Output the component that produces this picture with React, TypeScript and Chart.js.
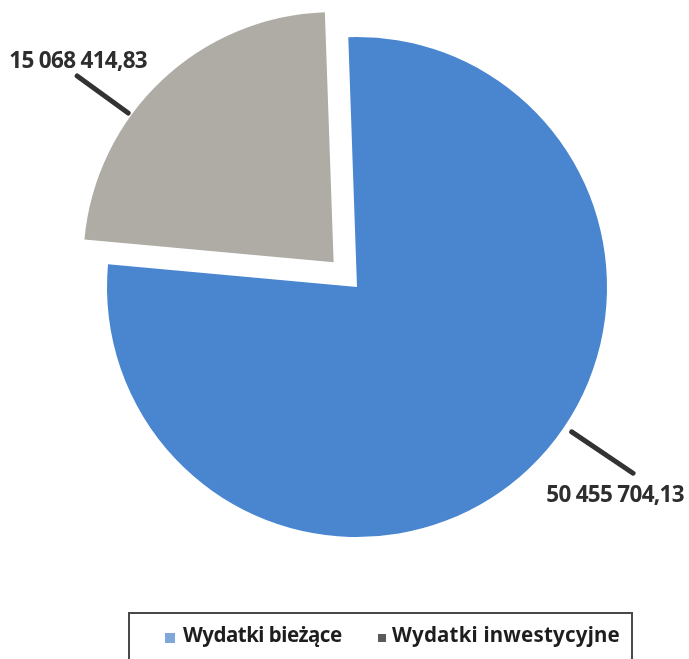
import React, { useEffect, useRef } from "react";
import { Chart, registerables } from "chart.js";

Chart.register(...registerables);

const categories = ["Wydatki bieżące", "Wydatki inwestycyjne"];
const values = [50455704.13, 15068414.83];
const sliceColors = ["#4a86cf", "#aeaca5"];
const legendColors = ["#7fa7da", "#5a5a5a"];
// Chart.js 4 translates an arc by offset / 4
const sliceOffsets = [0, 136];

function formatPl(v: number): string {
  const [i, d] = v.toFixed(2).split(".");
  return i.replace(/\B(?=(\d{3})+(?!\d))/g, " ") + "," + d;
}

// label geometry (style): angle clockwise from top (deg), line start/end radial distance beyond arc, text offset from line end
const labelStyle = [
  { angle: 124, r0: 9, r1: 83, tdx: -18, tdy: 22 },
  { angle: 306, r0: 4, r1: 67, tdx: 1, tdy: -14 },
];

const labelPlugin = {
  id: "leaderLabels",
  afterDatasetsDraw(chart: any) {
    const ctx = chart.ctx;
    const meta = chart.getDatasetMeta(0);
    meta.data.forEach((arc: any, i: number) => {
      const p = arc.getProps(["x", "y", "startAngle", "endAngle", "outerRadius"], true);
      const mid = (p.startAngle + p.endAngle) / 2;
      const off = (sliceOffsets[i] || 0) / 4;
      const cx = p.x + Math.cos(mid) * off;
      const cy = p.y + Math.sin(mid) * off;
      const s = labelStyle[i];
      const a = ((s.angle - 90) * Math.PI) / 180;
      const R = p.outerRadius;
      const x0 = cx + Math.cos(a) * (R + s.r0);
      const y0 = cy + Math.sin(a) * (R + s.r0);
      const x1 = cx + Math.cos(a) * (R + s.r1);
      const y1 = cy + Math.sin(a) * (R + s.r1);
      ctx.save();
      ctx.strokeStyle = "#333333";
      ctx.lineWidth = 5;
      ctx.lineCap = "round";
      ctx.beginPath();
      ctx.moveTo(x0, y0);
      ctx.lineTo(x1, y1);
      ctx.stroke();
      ctx.fillStyle = "#2e2e2e";
      ctx.font = "bold 22.5px 'Noto Sans'";
      (ctx as any).letterSpacing = "-0.7px";
      ctx.textAlign = "center";
      ctx.textBaseline = "middle";
      ctx.fillText(formatPl(chart.data.datasets[0].data[i]), x1 + s.tdx, y1 + s.tdy);
      ctx.restore();
    });
  },
};

const legendPlugin = {
  id: "boxLegend",
  afterDraw(chart: any) {
    const ctx = chart.ctx;
    ctx.save();
    ctx.strokeStyle = "#4a4a4a";
    ctx.lineWidth = 2;
    ctx.strokeRect(129, 613, 503, 60);
    ctx.font = "bold 20.5px 'Noto Sans'";
    ctx.textBaseline = "middle";
    ctx.textAlign = "left";
    const y = 636;
    const squareX = [165, 378];
    const textGap = [8, 6];
    const spacing = ["-0.5px", "0.2px"];
    chart.data.labels.forEach((lab: string, i: number) => {
      ctx.fillStyle = legendColors[i];
      const sz = i === 0 ? 10 : 8;
      ctx.fillRect(squareX[i], y - sz / 2 + 2, sz, sz);
      ctx.fillStyle = "#1e1e1e";
      (ctx as any).letterSpacing = spacing[i];
      ctx.fillText(lab, squareX[i] + sz + textGap[i], y);
    });
    ctx.restore();
  },
};

export default function App() {
  const ref = useRef<HTMLCanvasElement | null>(null);
  useEffect(() => {
    if (!ref.current) return;
    const chart = new Chart(ref.current, {
      type: "pie",
      data: {
        labels: categories,
        datasets: [
          {
            data: values,
            backgroundColor: sliceColors,
            borderWidth: 0,
            offset: sliceOffsets,
            radius: 250,
          } as any,
        ],
      },
      options: {
        animation: false,
        responsive: false,
        maintainAspectRatio: false,
        rotation: -2,
        layout: { padding: { left: 25, right: 0, top: 0, bottom: 85 } },
        plugins: { legend: { display: false }, tooltip: { enabled: false } },
      },
      plugins: [labelPlugin, legendPlugin],
    });
    return () => chart.destroy();
  }, []);
  return (
    <div style={{ position: "absolute", left: 0, top: 0, width: 689, height: 659, background: "#fff" }}>
      <canvas ref={ref} width={689} height={659} style={{ width: 689, height: 659 }} />
    </div>
  );
}
